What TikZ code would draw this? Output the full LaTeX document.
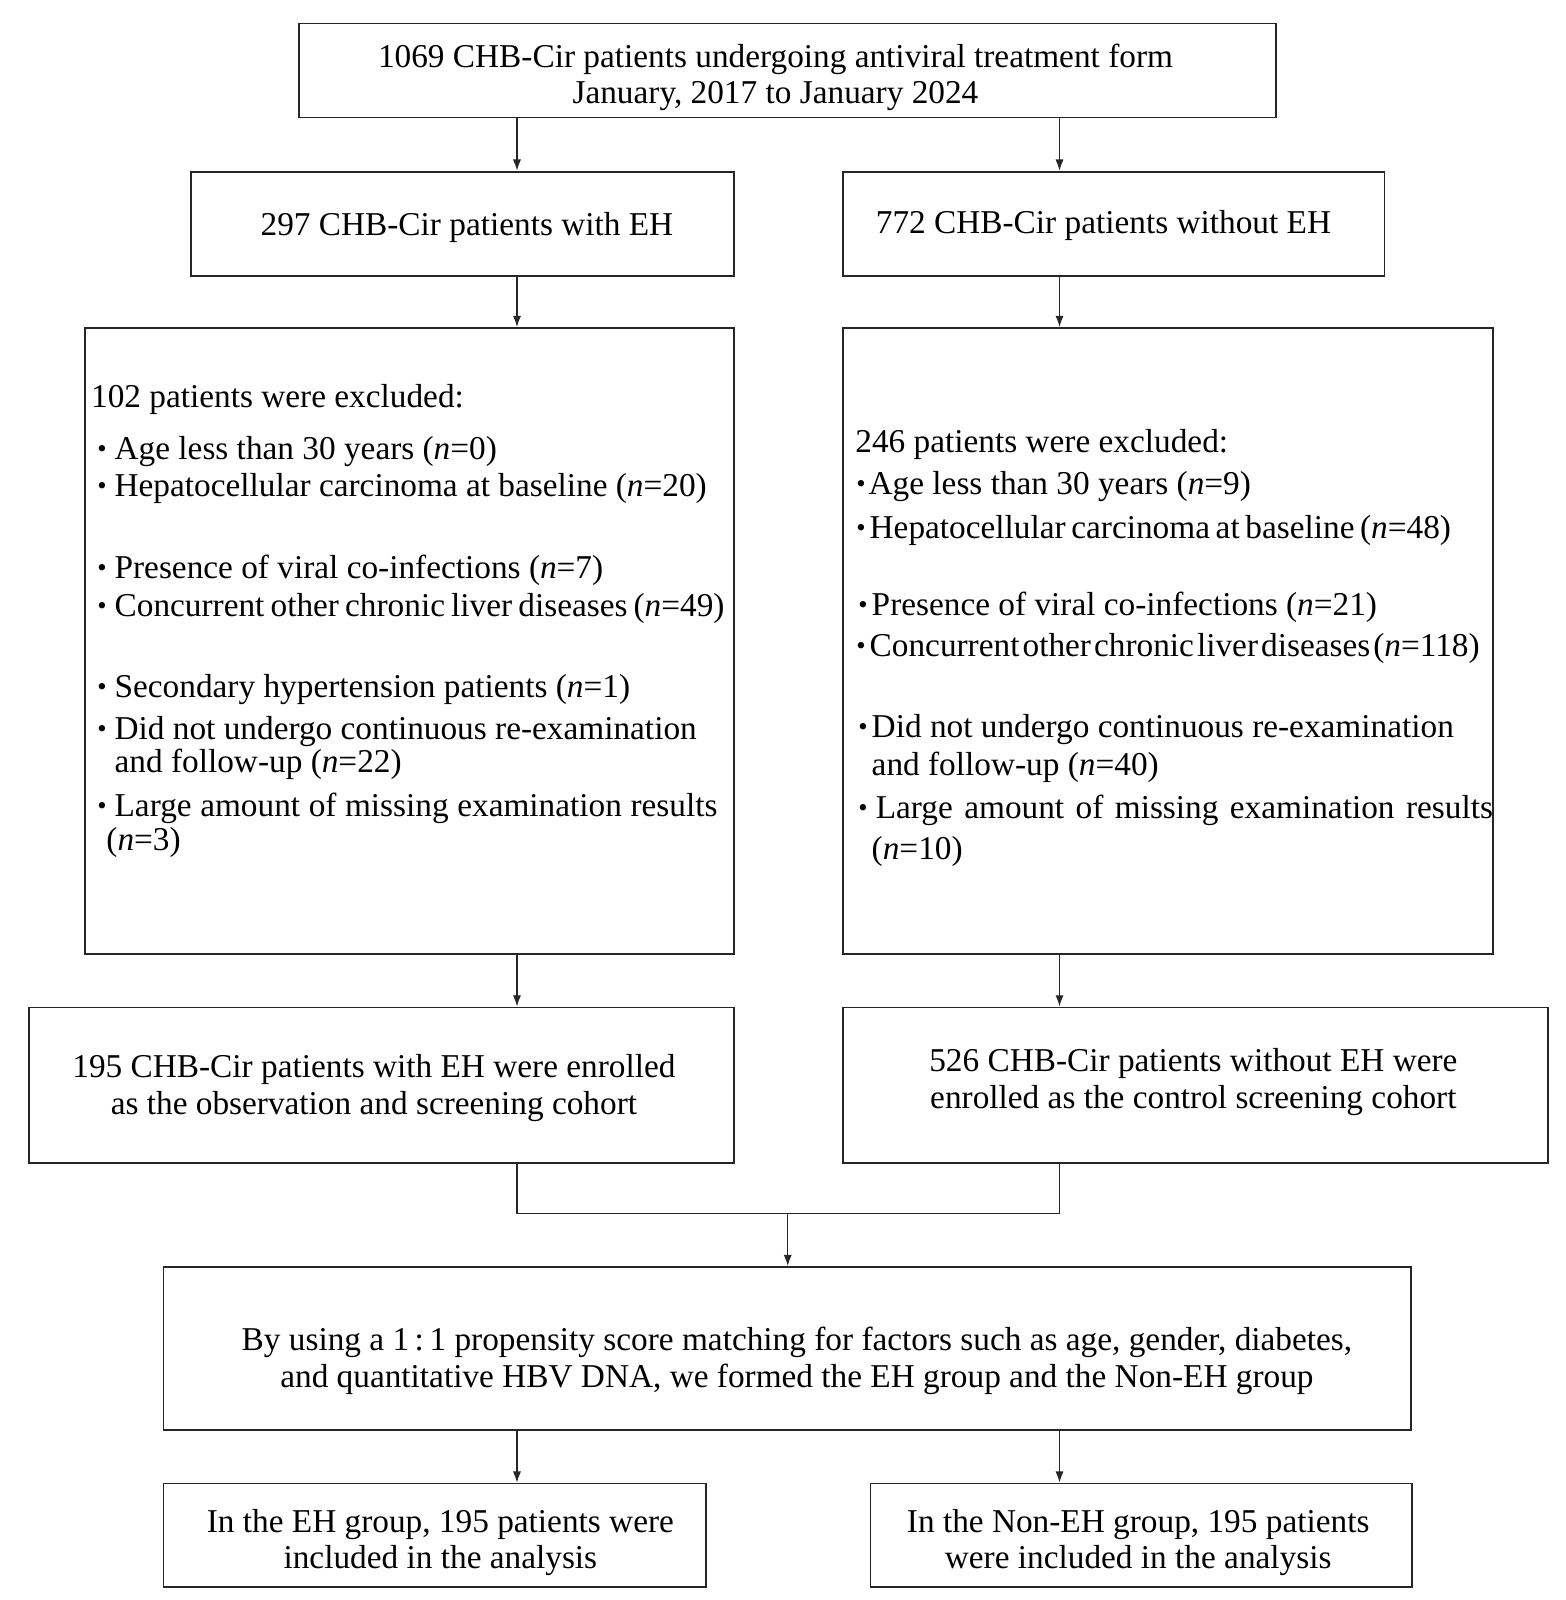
\documentclass[tikz,border=0pt]{standalone}
\usepackage{fontspec}
\setmainfont{Liberation Serif}
\usetikzlibrary{arrows.meta}
\tikzset{
 box/.style={draw=black!85, line width=1.8pt, inner sep=0pt, rectangle},
 txt/.style={inner sep=0pt, font=\fontsize{32.6}{35.5}\selectfont, align=center},
 ln/.style={inner sep=0pt, anchor=base west, font=\fontsize{32.6}{35.5}\selectfont},
 arr/.style={draw=black!85, line width=1.3pt, -{Latex[length=11pt,width=8pt]}},
 con/.style={draw=black!85, line width=1.3pt},
}
\newcommand\bul[1]{\makebox[#1][l]{\raisebox{2pt}{\scalebox{0.8}{\textbullet}}}}
\begin{document}
\begin{tikzpicture}[x=1pt,y=-1pt]
\fill[white] (0,0) rectangle (1532,1566);
\useasboundingbox (0,0) rectangle (1532,1566);
% boxes
\node[box, minimum width=956pt, minimum height=92pt] (top) at (771,69) {};
\node[box, minimum width=531pt, minimum height=102pt] (b297) at (452.5,219) {};
\node[box, minimum width=530pt, minimum height=102pt] (b772) at (1090,219) {};
\node[box, minimum width=635pt, minimum height=613pt] (exL) at (400.5,627.5) {};
\node[box, minimum width=636pt, minimum height=613pt] (exR) at (1143,627.5) {};
\node[box, minimum width=690pt, minimum height=152pt] (b195) at (373,1062) {};
\node[box, minimum width=690pt, minimum height=152pt] (b526) at (1170,1062) {};
\node[box, minimum width=1221pt, minimum height=160pt] (psm) at (770.5,1320) {};
\node[box, minimum width=531pt, minimum height=101pt] (bl) at (425.5,1502.5) {};
\node[box, minimum width=530pt, minimum height=101pt] (br) at (1117,1502.5) {};
% centered texts
\node[txt] (ttop) at (759,76) {1069 CHB-Cir patients undergoing antiviral treatment form\\January, 2017 to January 2024};
\node[txt] (t297) at (457,223) {297 CHB-Cir patients with EH};
\node[txt] (t772) at (1080,221) {772 CHB-Cir patients without EH};
\node[txt] (t195) at (366,1065) {195 CHB-Cir patients with EH were enrolled\\as the observation and screening cohort};
\node[txt] (t526) at (1168,1059) {526 CHB-Cir patients without EH were\\enrolled as the control screening cohort};
\node[txt] (tpsm) at (780,1332) {By using a 1\,:\,1 propensity score matching for factors such as age, gender, diabetes,\\and quantitative HBV DNA, we formed the EH group and the Non-EH group};
\node[txt] (tbl) at (431,1510) {In the EH group, 195 patients were\\included in the analysis};
\node[txt] (tbr) at (1114,1510) {In the Non-EH group, 195 patients\\were included in the analysis};
% left exclusion list
\node[ln] (a0) at (89,399) {102 patients were excluded:};
\node[ln] (a1) at (95,450) {\bul{17pt}Age less than 30 years (\textit{n}=0)};
\node[ln] (a2) at (95,486) {\bul{17pt}Hepatocellular carcinoma at baseline (\textit{n}=20)};
\node[ln] (a3) at (95,566) {\bul{17pt}Presence of viral co-infections (\textit{n}=7)};
\node[ln] (a4) at (95,603) {\bul{17pt}{\spaceskip=6pt Concurrent other chronic liver diseases (\textit{n}=49)}};
\node[ln] (a5) at (95,683) {\bul{17pt}Secondary hypertension patients (\textit{n}=1)};
\node[ln] (a6) at (95,724) {\bul{17pt}Did not undergo continuous re-examination};
\node[ln] (a7) at (112,756) {and follow-up (\textit{n}=22)};
\node[ln] (a8) at (95,799) {\bul{17pt}\makebox[590pt][s]{Large amount of missing examination results}};
\node[ln] (a9) at (104,832) {(\textit{n}=3)};
% right exclusion list
\node[ln] (b0) at (837,443) {246 patients were excluded:};
\node[ln] (b1) at (838,484) {\bul{12pt}Age less than 30 years (\textit{n}=9)};
\node[ln] (b2) at (838,527) {\bul{13pt}{\spaceskip=5.5pt Hepatocellular carcinoma at baseline (\textit{n}=48)}};
\node[ln] (b3) at (840,602) {\bul{13pt}Presence of viral co-infections (\textit{n}=21)};
\node[ln] (b4) at (838,643) {\bul{13pt}{\spaceskip=3pt Concurrent other chronic liver diseases (\textit{n}=118)}};
\node[ln] (b5) at (840,722) {\bul{13pt}Did not undergo continuous re-examination};
\node[ln] (b6) at (853,759) {and follow-up (\textit{n}=40)};
\node[ln] (b7) at (840,801) {\bul{17pt}\makebox[604pt][s]{Large amount of missing examination results}};
\node[ln] (b8) at (853,841) {(\textit{n}=10)};
% connectors
\coordinate (xl) at (506,0);
\coordinate (xr) at (1037,0);
\coordinate (m) at (771,1188);
\draw[arr] (top.south -| xl) -- (b297.north -| xl);
\draw[arr] (top.south -| xr) -- (b772.north -| xr);
\draw[arr] (b297.south -| xl) -- (exL.north -| xl);
\draw[arr] (b772.south -| xr) -- (exR.north -| xr);
\draw[arr] (exL.south -| xl) -- (b195.north -| xl);
\draw[arr] (exR.south -| xr) -- (b526.north -| xr);
\draw[con] (b195.south -| xl) |- (m) -| (b526.south -| xr);
\draw[arr] (m) -- (psm.north -| m);
\draw[arr] (psm.south -| xl) -- (bl.north -| xl);
\draw[arr] (psm.south -| xr) -- (br.north -| xr);
\end{tikzpicture}
\end{document}
